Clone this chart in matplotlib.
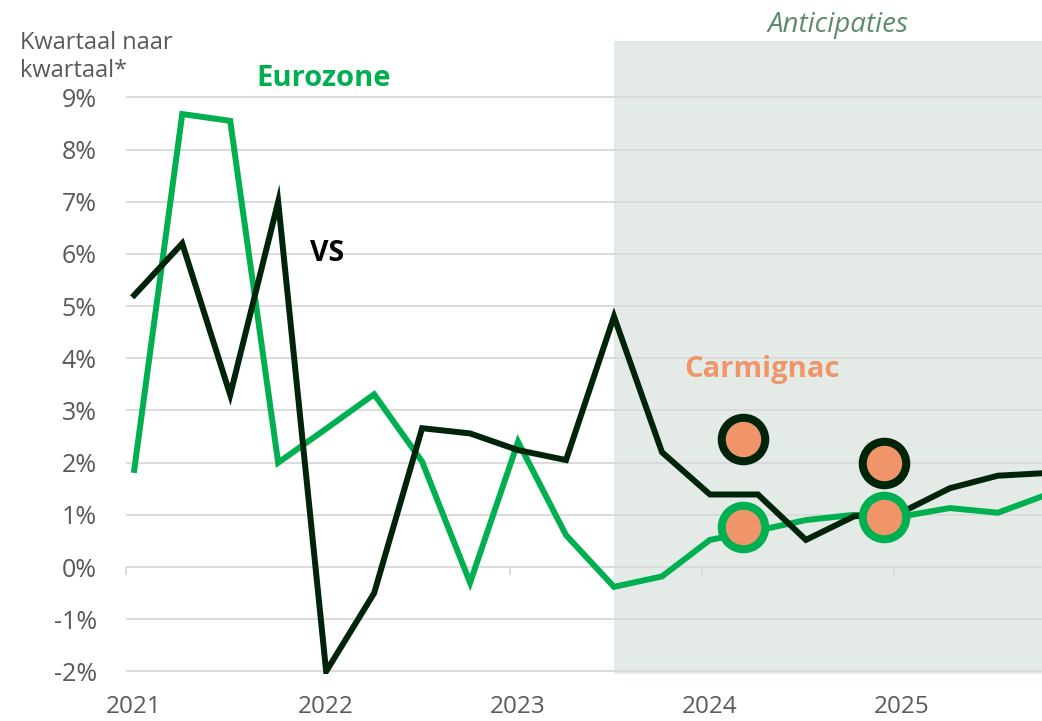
import numpy as np
import matplotlib
matplotlib.use('Agg')
import matplotlib.pyplot as plt

# Quarter-on-quarter growth (%), Q1 2021 .. Q4 2025
eurozone = [1.86, 8.68, 8.55, 2.0, 2.65, 3.31, 2.02, -0.3, 2.4, 0.61,
            -0.38, -0.18, 0.52, 0.7, 0.9, 1.0, 0.97, 1.13, 1.04, 1.38]
vs = [5.21, 6.2, 3.3, 7.0, -2.0, -0.5, 2.66, 2.56, 2.24, 2.05,
      4.8, 2.2, 1.39, 1.39, 0.52, 0.97, 1.05, 1.51, 1.75, 1.8]

# Carmignac forecasts (2024, 2025)
carm_x = [2024.215, 2024.95]
carm_vs = [2.45, 1.99]
carm_ez = [0.77, 0.95]

years = [2021, 2022, 2023, 2024, 2025]
yticks = list(range(-2, 10))
forecast_start = 10  # first forecast quarter index

GREEN = '#00b050'
DARK = '#00240a'
ORANGE = '#f0956a'
GRID = '#d9d9d9'
TXT = '#595959'

plt.rcParams['font.family'] = ['Open Sans', 'DejaVu Sans']

x = 2021.043 + 0.25 * np.arange(len(eurozone))

fig = plt.figure(figsize=(10.42, 7.21), dpi=100)
ax = fig.add_axes([126 / 1042, 1 - 674 / 721, 1 - 126 / 1042, (674 - 41) / 721])
ax.set_xlim(2021.0, 2021 + (1042 - 126) / 191.9)
ax.set_ylim(-2.05, 10.08)

# forecast shading
ax.axvspan(x[forecast_start], 2030, color='#e4ebe7', zorder=0, lw=0)

for v in yticks:
    ax.axhline(v, color=GRID, lw=1.3, zorder=1)

ax.plot(x, eurozone, color=GREEN, lw=4.3, zorder=3, solid_joinstyle='miter')
ax.plot(x, vs, color=DARK, lw=4.3, zorder=4, solid_joinstyle='miter')

ax.scatter(carm_x, carm_vs, s=980, color=ORANGE, edgecolor=DARK, lw=5.8, zorder=5)
ax.scatter(carm_x, carm_ez, s=980, color=ORANGE, edgecolor=GREEN, lw=5.8, zorder=5)

for s in ax.spines.values():
    s.set_visible(False)

ax.set_yticks(yticks)
ax.set_yticklabels([f'{v}%' for v in yticks])
ax.tick_params(axis='y', length=0, pad=21, labelsize=18, labelcolor=TXT)
ax.set_xticks([y + 0.04 for y in years])
ax.set_xticklabels([str(y) for y in years])
ax.tick_params(axis='x', length=0, pad=15, labelsize=17.5, labelcolor=TXT)

# small year ticks on the zero line
zero_frac = (0 - (-2.05)) / (10.08 - (-2.05))
sec = ax.secondary_xaxis(zero_frac)
sec.set_xticks(years)
sec.set_xticklabels([])
sec.tick_params(axis='x', length=6, width=1.3, color=GRID, direction='out')
sec.spines['bottom'].set_visible(False)

fig.text(20 / 1042, 1 - 49 / 721, 'Kwartaal naar', color=TXT, fontsize=17,
         ha='left', va='baseline')
fig.text(20 / 1042, 1 - 77 / 721, 'kwartaal*', color=TXT, fontsize=17,
         ha='left', va='baseline')
fig.text(324 / 1042, 1 - 79 / 721, 'Eurozone', color=GREEN, fontsize=21,
         fontweight='bold', ha='center', va='center')
fig.text(327 / 1042, 1 - 253 / 721, 'VS', color='black', fontsize=20.5,
         fontweight='bold', ha='center', va='center')
fig.text(762 / 1042, 1 - 370 / 721, 'Carmignac', color=ORANGE, fontsize=21,
         fontweight='bold', ha='center', va='center')
fig.text(838 / 1042, 1 - 25 / 721, 'Anticipaties', color='#5e8b6c', fontsize=20,
         style='italic', ha='center', va='center')

fig.savefig('out.png', dpi=100)
